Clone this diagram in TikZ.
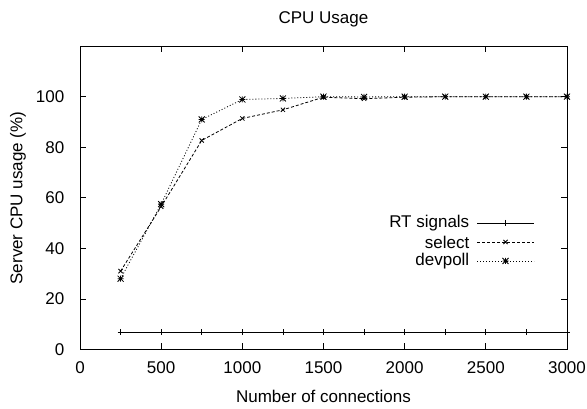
\documentclass[tikz,border=0pt]{standalone}
\usepackage{fontspec}
\setmainfont{Liberation Sans}
\usetikzlibrary{plotmarks}
\pgfdeclareplotmark{xplus}{%
  \pgfpathmoveto{\pgfqpoint{-\pgfplotmarksize}{0pt}}\pgfpathlineto{\pgfqpoint{\pgfplotmarksize}{0pt}}%
  \pgfpathmoveto{\pgfqpoint{0pt}{-\pgfplotmarksize}}\pgfpathlineto{\pgfqpoint{0pt}{\pgfplotmarksize}}%
  \pgfpathmoveto{\pgfqpoint{-\pgfplotmarksize}{-\pgfplotmarksize}}\pgfpathlineto{\pgfqpoint{\pgfplotmarksize}{\pgfplotmarksize}}%
  \pgfpathmoveto{\pgfqpoint{-\pgfplotmarksize}{\pgfplotmarksize}}\pgfpathlineto{\pgfqpoint{\pgfplotmarksize}{-\pgfplotmarksize}}%
  \pgfusepathqstroke}

\begin{document}
\begin{tikzpicture}[x=1pt, y=1pt, line width=0.8pt, font=\fontsize{17}{20}\selectfont,
	rtline/.style={solid, mark=+, mark size=3pt},
	selline/.style={dash pattern=on 3pt off 2pt, mark=x, mark size=3pt, mark options={solid}},
	devline/.style={dash pattern=on 1pt off 2pt, mark=xplus, mark size=3pt, mark options={solid}}]
	\useasboundingbox (0,0) rectangle (587,409);
	\node (title) at (323.5,390) {CPU Usage};
	\node (xlab) at (323.5,13) {Number of connections};
	\node (ylab) [rotate=90] at (18,211) {Server CPU usage (\%)};
	\begin{scope}[shift={(80,59.5)}, x=0.16233pt, y=2.528pt]
		\draw (0,0) rectangle (3000,120);
		\foreach \y in {0,20,...,100} {
			\draw (0,\y) -- ++(6pt,0pt);
			\draw (3000,\y) -- ++(-6pt,0pt);
			\node (yt\y) [anchor=east] at (0,\y) [xshift=-12pt] {\y};
		}
		\foreach \x in {0,500,...,3000} {
			\draw (\x,0) -- ++(0pt,6pt);
			\draw (\x,120) -- ++(0pt,-6pt);
			\node (xt\x) at (\x,0) [yshift=-18.5pt] {\x};
		}
		\draw[rtline] plot coordinates {(250,6.8) (500,6.8) (750,6.8) (1000,6.8) (1250,6.8) (1500,6.8)
			(1750,6.8) (2000,6.8) (2250,6.8) (2500,6.8) (2750,6.8) (3000,6.8)};
		\draw[selline] plot coordinates {(250,31) (500,56.5) (750,82.7) (1000,91.4) (1250,94.8) (1500,99.8)
			(1750,99.2) (2000,99.8) (2250,100) (2500,100) (2750,100) (3000,100)};
		\draw[devline] plot coordinates {(250,28) (500,57.5) (750,91) (1000,98.9) (1250,99.3) (1500,100)
			(1750,99.9) (2000,100) (2250,100) (2500,100) (2750,100) (3000,100)};
	\end{scope}
	\node (lrt) [anchor=east] at (473,186) {RT signals};
	\node (lsel) [anchor=east] at (473,167) {select};
	\node (ldev) [anchor=east] at (473,148) {devpoll};
	\draw (477,186) -- (534,186);
	\draw[dash pattern=on 3pt off 2pt] (477,167) -- (534,167);
	\draw[dash pattern=on 1pt off 2pt] (477,148) -- (534,148);
	\foreach \m/\yy in {+/186, x/167, xplus/148} {\draw plot[mark=\m, mark size=3pt] coordinates {(505.5,\yy)};}
\end{tikzpicture}
\end{document}
